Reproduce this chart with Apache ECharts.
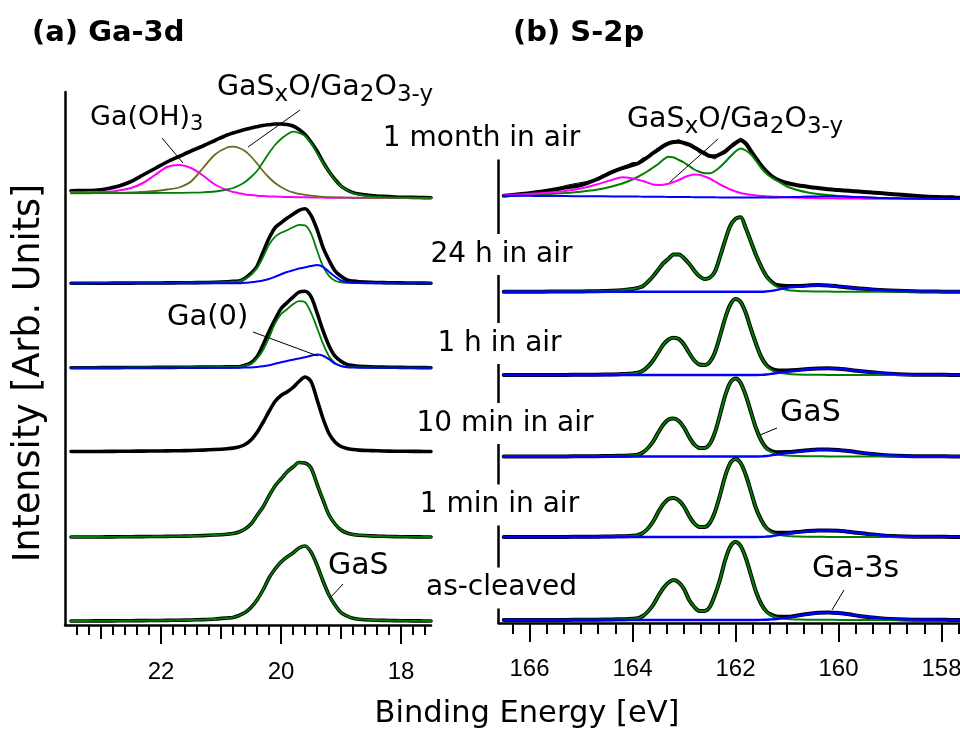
<!DOCTYPE html>
<html>
<head>
<meta charset="utf-8">
<title>GaS XPS: Ga-3d and S-2p versus air exposure</title>
<script src="https://cdn.jsdelivr.net/npm/echarts@6.0.0/dist/echarts.min.js"></script>
<style>
  html, body { margin: 0; padding: 0; background: #ffffff; }
  #chart { width: 960px; height: 732px; }
</style>
</head>
<body>
<div id="chart"></div>
<script>
// ---------------- binding-energy sampling (eV) ----------------
const energyGa3d = [23.5, 23.3, 23.1, 22.9, 22.7, 22.5, 22.3, 22.1, 21.9, 21.7, 21.5, 21.3, 21.1,
  20.9, 20.8, 20.7, 20.6, 20.5, 20.4, 20.3, 20.2, 20.1, 20.0, 19.9, 19.8, 19.7, 19.6, 19.5, 19.4,
  19.3, 19.2, 19.1, 19.0, 18.9, 18.8, 18.7, 18.5, 18.3, 18.1, 17.9, 17.7, 17.5];
const energyS2p = [166.5, 166.2, 165.9, 165.6, 165.3, 165.0, 164.7, 164.4, 164.2, 164.0,
  163.9, 163.8, 163.7, 163.6, 163.5, 163.4, 163.3, 163.2, 163.1, 163.0,
  162.9, 162.8, 162.7, 162.6, 162.5, 162.4, 162.3, 162.2, 162.1, 162.0,
  161.9, 161.8, 161.7, 161.6, 161.5, 161.4, 161.3, 161.2, 161.0, 160.8,
  160.6, 160.4, 160.2, 160.0, 159.8, 159.6, 159.4, 159.2, 159.0, 158.7,
  158.4, 158.1, 157.8, 157.6];

// exposure history, top spectrum first
const conditions = ['1 month in air', '24 h in air', '1 h in air', '10 min in air', '1 min in air', 'as-cleaved'];
// vertical stacking offsets of each spectrum (arb. units)
const offsetGa3d = [427, 341.7, 257.3, 173.5, 88, 4];
const offsetS2p = [424, 331.3, 248, 166.5, 86, 3];

// tick labels of the binding-energy axes
const ga3dTicks = [22, 20, 18];
const s2pTicks = [166, 164, 162, 160, 158];

// ---------------- Ga-3d intensities (arb. units above each baseline) ----------------
const monthGa3dFit = [7.3, 7.5, 7.8, 9.3, 12, 16.5, 23, 29.5, 36, 41.5, 47, 52, 57.5,
  63, 65, 66.8, 68.4, 70, 71.3, 72.5, 73.3, 74, 74, 73.5, 72, 68.5, 63.5, 56, 47,
  36, 26.4, 18.5, 12, 8, 5.4, 4, 2.5, 1.6, 1.0, 0.7, 0.5, 0.3];
const monthGa3dHydroxide = [5.7, 5.8, 6, 6.2, 7.6, 10, 15, 23, 31, 33, 30, 22.5, 13.5,
  7.8, 6, 4.8, 3.6, 2.9, 2.3, 1.9, 1.6, 1.4, 1.2, 1.0, 0.9, 0.8, 0.7, 0.6, 0.5,
  0.4, 0.3, 0.3, 0.2, 0.2, 0.1, 0.1, 0.1, 0, 0, 0, 0, 0];
const monthGa3dOxide = [5, 5, 5, 5.1, 5.2, 5.5, 6.2, 7, 8.5, 10.5, 16.5, 30, 43.5,
  50.5, 51.3, 50, 47, 41.5, 34.5, 27, 20.5, 15, 11, 7.8, 5.6, 4.2, 3.2, 2.3, 1.7,
  1.2, 0.8, 0.6, 0.5, 0.4, 0.3, 0.3, 0.2, 0.2, 0.1, 0.1, 0, 0];
const monthGa3dGaS = [4.7, 4.7, 4.8, 4.8, 4.9, 4.9, 5.0, 5.0, 5.1, 5.2, 5.3, 5.7, 6.5,
  8.5, 10, 12.5, 16, 21, 27, 36, 45, 53, 59, 63.5, 66.3, 65, 62, 55, 45,
  35.3, 26.5, 18, 12, 7.8, 5, 3.3, 1.6, 0.9, 0.5, 0.3, 0.2, 0.1];

const h24Ga3dFit = [0, 0, 0.1, 0.1, 0.2, 0.2, 0.3, 0.3, 0.4, 0.5, 0.6, 0.8, 1.0,
  1.5, 2, 2.2, 5, 10, 17, 31, 45, 55.5, 60.5, 65, 69, 73, 74.5, 68, 54,
  36, 23, 12.5, 7, 3.3, 2.2, 1.6, 1.0, 0.7, 0.5, 0.3, 0.2, 0.1];
const h24Ga3dGaS = [0, 0, 0.1, 0.1, 0.2, 0.2, 0.3, 0.3, 0.4, 0.5, 0.6, 0.7, 0.8,
  1.2, 1.6, 2, 4.5, 8.5, 15.5, 26, 38.5, 46.5, 50.5, 53, 56, 58.5, 58, 50, 33,
  17, 7.5, 2.6, 1.0, 0.5, 0.3, 0.2, 0.1, 0.1, 0, 0, 0, 0];
const h24Ga3dMetal = [0, 0, 0, 0, 0, 0, 0, 0, 0, 0, 0, 0, 0,
  0, 0, 0, 0.5, 1, 1.8, 2.8, 4.3, 6.5, 9, 11.3, 13, 14.8, 16, 17.2, 18.2,
  16.5, 11.5, 6.8, 2.8, 1.2, 0.5, 0.2, 0, 0, 0, 0, 0, 0];

const h1Ga3dFit = [0, 0, 0, 0.1, 0.1, 0.2, 0.2, 0.3, 0.3, 0.4, 0.5, 0.6, 0.7,
  0.8, 0.9, 1.0, 2.5, 5, 11, 22.7, 36, 48, 59, 65, 70.5, 75.5, 76.5, 71, 55,
  37, 22, 11.5, 6.5, 3.3, 2.2, 1.5, 0.9, 0.6, 0.4, 0.2, 0.1, 0];
const h1Ga3dGaS = [0, 0, 0, 0.1, 0.1, 0.2, 0.2, 0.3, 0.3, 0.4, 0.5, 0.6, 0.7,
  0.7, 0.8, 0.9, 2, 3.6, 9, 17.5, 30, 44, 53.5, 58.5, 63.5, 66.5, 65.5, 55, 40,
  24, 11.5, 4.8, 1.8, 0.9, 0.6, 0.4, 0.2, 0.1, 0.1, 0, 0, 0];
const h1Ga3dMetal = [0, 0, 0, 0, 0, 0, 0, 0, 0, 0, 0, 0, 0,
  0, 0, 0, 0.1, 0.3, 0.8, 1.5, 2.5, 4, 5.5, 6.8, 8, 9.2, 10.5, 12, 13.3,
  12, 8.5, 4, 1.6, 0.5, 0.2, 0, 0, 0, 0, 0, 0, 0];

const min10Ga3dFit = [0, 0, 0, 0.1, 0.2, 0.3, 0.4, 0.5, 0.6, 0.8, 1.0, 1.4, 2.0,
  2.8, 3.4, 4.6, 7, 11.5, 19, 29, 40, 50, 56, 59.5, 64, 70, 74.5, 70, 52,
  33, 18, 9.5, 5, 3, 2, 1.4, 0.9, 0.5, 0.3, 0.2, 0.1, 0];

const min1Ga3dFit = [0, 0, 0, 0.1, 0.2, 0.3, 0.4, 0.5, 0.6, 0.8, 1.0, 1.4, 2.0,
  2.8, 3.4, 5, 8, 13, 21.5, 30, 41, 51, 58, 65, 70, 74.5, 74, 69, 53,
  37, 22, 13, 7, 4, 2.5, 1.8, 1.1, 0.7, 0.4, 0.2, 0.1, 0];
const min1Ga3dGaS = min1Ga3dFit;

const cleavedGa3dFit = [0, 0, 0.1, 0.1, 0.2, 0.3, 0.4, 0.5, 0.6, 0.8, 1.0, 1.4, 2.0,
  3.0, 3.6, 5.5, 8.5, 13.5, 21, 31, 43, 52, 59, 64, 68, 73, 75, 69, 56,
  40, 26, 16, 8.5, 5, 2.7, 1.8, 1.0, 0.6, 0.4, 0.2, 0.1, 0];
const cleavedGa3dGaS = cleavedGa3dFit;

// ---------------- S-2p intensities (arb. units above each baseline) ----------------
const monthS2pFit = [3.3, 4.8, 6.6, 8.8, 11.4, 14, 19.5, 26.8, 30.8, 34,
  35.5, 38.5, 42, 46, 49.5, 53, 55.7, 57, 57.2, 56,
  54.3, 51.5, 48.5, 45.5, 43, 42.8, 44.8, 47.5, 52, 56,
  58.8, 55.5, 48, 40.5, 33.5, 27.5, 23, 19.8, 16, 13.8,
  12.3, 10.9, 9.7, 8.9, 8.2, 7.5, 6.7, 5.9, 5.1, 4.0,
  2.8, 2.0, 1.5, 1.2];
const monthS2pRaw = [3.3, 4.6, 6.9, 8.5, 13.5, 16.5, 19.0, 26.0, 31.5, 36.5,
  36.5, 41, 42.5, 45.5, 50, 52.5, 56.5, 57.5, 59.5, 55.5,
  55.5, 51, 46, 48, 42.5, 40, 44, 47.5, 52.5, 57,
  61, 55, 48.5, 40, 34, 27, 23.5, 19.5, 16.5, 13.5,
  12.8, 10.6, 10, 8.6, 8.5, 7.2, 6.9, 5.6, 5.3, 3.8,
  3.0, 1.8, 3.2, 1.2];
const monthS2pGaS = [3.0, 3.5, 4.2, 5.0, 6.0, 7.3, 9.2, 12.5, 15.5, 19.5,
  22, 24.8, 28, 31.5, 35, 39.5, 42.3, 41.5, 39, 36.5,
  33, 29.5, 27.3, 25.7, 25.7, 28, 32, 37, 42.5, 47.5,
  50.5, 48.5, 44.5, 38, 31, 25.5, 21.5, 18.5, 12.5, 9,
  6.5, 5, 4.0, 3.0, 2.3, 1.8, 1.4, 1.0, 0.8, 0.5,
  0.3, 0.2, 0.1, 0.1];
const monthS2pOxide = [4.0, 4.6, 5.4, 6.4, 8, 10.5, 14.5, 19, 21.7, 20.5,
  19.3, 18, 16.3, 14.5, 14, 14.3, 15.3, 17, 19, 21.5,
  23.5, 24.6, 24.2, 22.5, 20.5, 17.5, 14.5, 12, 9.5, 7.5,
  6, 5, 4.2, 3.6, 3.1, 2.7, 2.4, 2.2, 1.7, 1.3,
  1.0, 0.8, 0.7, 0.6, 0.5, 0.4, 0.3, 0.3, 0.2, 0.1,
  0.1, 0, 0, 0];
const monthS2pBackground = [3.3, 3.2, 3.1, 3.0, 2.9, 2.8, 2.7, 2.6, 2.5, 2.45,
  2.4, 2.35, 2.3, 2.25, 2.2, 2.15, 2.1, 2.05, 2.0, 1.95,
  1.9, 1.85, 1.8, 1.75, 1.7, 1.65, 1.6, 1.55, 1.5, 1.45,
  1.4, 1.4, 1.4, 1.4, 1.45, 1.5, 1.55, 1.6, 1.8, 2.1,
  2.4, 2.6, 2.7, 2.6, 2.3, 1.9, 1.5, 1.1, 0.8, 0.5,
  0.3, 0.1, 0, 0];

const h24S2pFit = [0, 0, 0, 0.1, 0.2, 0.3, 0.5, 0.9, 1.5, 2.6,
  3.8, 5.5, 10, 15.5, 22, 28.5, 33, 37.3, 37.3, 33.5,
  28, 21, 15.5, 12.8, 14, 20, 35, 51.5, 66, 73,
  74.5, 63.5, 50, 36.5, 25, 15.5, 10, 6.8, 5.8, 5.7,
  6.2, 6.7, 6.3, 5.3, 4.3, 3.3, 2.4, 1.7, 1.2, 0.6,
  0.3, 0.1, 0, 0];
const h24S2pGaS = [0, 0, 0, 0.1, 0.2, 0.3, 0.5, 0.9, 1.5, 2.6,
  3.8, 5.5, 10, 15.5, 22, 28.5, 33, 37.3, 37.3, 33.5,
  28, 21, 15.5, 12.8, 14, 20, 35, 51.5, 66, 73,
  74.5, 63.5, 50, 36.5, 25, 15.2, 9.2, 5, 1.8, 0.8,
  0.4, 0.2, 0.1, 0, 0, 0, 0, 0, 0, 0,
  0, 0, 0, 0];
const h24S2pGa3s = [0, 0, 0, 0, 0, 0, 0, 0, 0, 0,
  0, 0, 0, 0, 0, 0, 0, 0, 0, 0,
  0, 0, 0, 0, 0, 0, 0, 0, 0, 0,
  0, 0, 0, 0, 0, 0.3, 0.8, 1.8, 4.0, 4.9,
  5.8, 6.5, 6.2, 5.3, 4.3, 3.3, 2.4, 1.7, 1.2, 0.6,
  0.3, 0.1, 0, 0];

const h1S2pFit = [0, 0, 0, 0.1, 0.1, 0.2, 0.3, 0.6, 1.0, 1.5,
  2.2, 4.2, 8.5, 14.5, 22.5, 30.5, 35.5, 37.3, 36, 30.5,
  22, 14.5, 10.5, 10, 13, 22.5, 39, 57, 70.5, 76,
  73, 62, 46, 31, 18, 10, 6.2, 4.8, 4.5, 5.0,
  6.0, 6.6, 6.7, 6.2, 5.2, 4.0, 2.9, 2.0, 1.3, 0.6,
  0.3, 0.2, 0.1, 0];
const h1S2pGaS = [0, 0, 0, 0.1, 0.1, 0.2, 0.3, 0.6, 1.0, 1.5,
  2.2, 4.2, 8.5, 14.5, 22.5, 30.5, 35.5, 37.3, 36, 30.5,
  22, 14.5, 10.5, 10, 13, 22.5, 39, 57, 70.5, 76,
  73, 62, 46, 31, 17.9, 9.5, 5, 2.8, 1.2, 0.5,
  0.3, 0.2, 0.1, 0, 0, 0, 0, 0, 0, 0,
  0, 0, 0, 0];
const h1S2pGa3s = [0, 0, 0, 0, 0, 0, 0, 0, 0, 0,
  0, 0, 0, 0, 0, 0, 0, 0, 0, 0,
  0, 0, 0, 0, 0, 0, 0, 0, 0, 0,
  0, 0, 0, 0, 0.1, 0.5, 1.2, 2.0, 3.3, 4.5,
  5.7, 6.4, 6.6, 6.2, 5.2, 4.0, 2.9, 2.0, 1.3, 0.6,
  0.3, 0.2, 0.1, 0];

const min10S2pFit = [0, 0, 0, 0.1, 0.1, 0.2, 0.3, 0.5, 0.8, 1.2,
  1.8, 4, 8.5, 15, 24, 32, 37, 38, 35.5, 29,
  19.5, 12, 8.5, 8.5, 12.5, 24, 42, 61, 74, 78,
  73.5, 61, 44.5, 28, 16, 8.5, 5.5, 4.3, 4.4, 5.2,
  6.2, 7.0, 7.0, 6.5, 5.4, 4.0, 2.8, 1.8, 1.1, 0.5,
  0.3, 0.2, 0.1, 0];
const min10S2pGaS = [0, 0, 0, 0.1, 0.1, 0.2, 0.3, 0.5, 0.8, 1.2,
  1.8, 4, 8.5, 15, 24, 32, 37, 38, 35.5, 29,
  19.5, 12, 8.5, 8.5, 12.5, 24, 42, 61, 74, 78,
  73.5, 61, 44.5, 28, 15.9, 8, 4.3, 2.3, 1.0, 0.5,
  0.3, 0.2, 0.1, 0.1, 0, 0, 0, 0, 0, 0,
  0, 0, 0, 0];
const min10S2pGa3s = [0, 0, 0, 0, 0, 0, 0, 0, 0, 0,
  0, 0, 0, 0, 0, 0, 0, 0, 0, 0,
  0, 0, 0, 0, 0, 0, 0, 0, 0, 0,
  0, 0, 0, 0, 0.1, 0.5, 1.2, 2.0, 3.4, 4.7,
  5.9, 6.8, 6.9, 6.4, 5.4, 4.0, 2.8, 1.8, 1.1, 0.5,
  0.3, 0.2, 0.1, 0];

const min1S2pFit = [0, 0, 0, 0.1, 0.1, 0.2, 0.3, 0.5, 0.8, 1.2,
  1.8, 4, 8.5, 15.5, 25, 33, 38, 39, 36.5, 30.5,
  21, 13.5, 10, 10, 14, 25, 42, 61, 74, 78,
  74, 62, 45.5, 28.5, 17, 9, 5.5, 4.2, 4.2, 5.0,
  5.9, 6.5, 6.6, 6.2, 5.2, 4.0, 2.8, 1.8, 1.1, 0.5,
  0.3, 0.2, 0.1, 0];
const min1S2pGaS = [0, 0, 0, 0.1, 0.1, 0.2, 0.3, 0.5, 0.8, 1.2,
  1.8, 4, 8.5, 15.5, 25, 33, 38, 39, 36.5, 30.5,
  21, 13.5, 10, 10, 14, 25, 42, 61, 74, 78,
  74, 62, 45.5, 28.5, 16.9, 8.6, 4.7, 2.6, 1.0, 0.5,
  0.3, 0.2, 0.1, 0.1, 0, 0, 0, 0, 0, 0,
  0, 0, 0, 0];
const min1S2pGa3s = [0, 0, 0, 0, 0, 0, 0, 0, 0, 0,
  0, 0, 0, 0, 0, 0, 0, 0, 0, 0,
  0, 0, 0, 0, 0, 0, 0, 0, 0, 0,
  0, 0, 0, 0, 0.1, 0.4, 0.8, 1.6, 3.2, 4.5,
  5.6, 6.3, 6.5, 6.1, 5.2, 4.0, 2.8, 1.8, 1.1, 0.5,
  0.3, 0.2, 0.1, 0];

const cleavedS2pFit = [0, 0, 0, 0.1, 0.1, 0.2, 0.3, 0.5, 0.8, 1.2,
  1.7, 4, 8.5, 15, 24, 32, 37.5, 40, 37.5, 31,
  20, 13, 9, 9, 13, 25, 40.5, 60, 73.5, 78,
  74, 62, 45, 28, 16, 8.5, 5.1, 3.5, 3.2, 4.5,
  6.1, 7.2, 7.5, 6.9, 5.7, 4.0, 2.8, 1.8, 1.1, 0.5,
  0.3, 0.2, 0.1, 0];
const cleavedS2pGaS = [0, 0, 0, 0.1, 0.1, 0.2, 0.3, 0.5, 0.8, 1.2,
  1.7, 4, 8.5, 15, 24, 32, 37.5, 40, 37.5, 31,
  20, 13, 9, 9, 13, 25, 40.5, 60, 73.5, 78,
  74, 62, 45, 28, 15.9, 8, 4.5, 2.5, 1.0, 0.5,
  0.3, 0.2, 0.2, 0.1, 0, 0, 0, 0, 0, 0,
  0, 0, 0, 0];
const cleavedS2pGa3s = [0, 0, 0, 0, 0, 0, 0, 0, 0, 0,
  0, 0, 0, 0, 0, 0, 0, 0, 0, 0,
  0, 0, 0, 0, 0, 0, 0, 0, 0, 0,
  0, 0, 0, 0, 0.1, 0.3, 0.6, 1.0, 2.2, 4.0,
  5.8, 7.0, 7.3, 6.8, 5.7, 4.0, 2.8, 1.8, 1.1, 0.5,
  0.3, 0.2, 0.1, 0];

// ---------------- styling ----------------
const INK = '#000000';
const GREEN = '#008000';
const BLUE = '#0000ff';
const MAGENTA = '#ff00ff';
const OLIVE = '#6b6a1e';
const TEXT_FONT = '"DejaVu Sans", "Liberation Sans", sans-serif';
const TICK_FONT = '"Liberation Sans", Arial, sans-serif';

// ---------------- layout of the two energy axes ----------------
// Ga-3d: 60 px per eV, 22 eV at x = 161; S-2p: 51.5 px per eV, 166 eV at x = 529.5
const ga3dScale = { pxPerEv: 60, refEv: 22, refX: 161, top: 92, height: 533 };
const s2pScale = { pxPerEv: 51.5, refEv: 166, refX: 529.5, top: 158, height: 465 };

function gridFor(scale, eMax, eMin) {
  return {
    left: scale.refX - (eMax - scale.refEv) * scale.pxPerEv,
    width: (eMax - eMin) * scale.pxPerEv,
    top: scale.top,
    height: scale.height,
    containLabel: false,
    outerBoundsMode: 'none'
  };
}

const grids = [];
const xAxes = [];
const yAxes = [];

function addAxisGrid(scale, eMin, eMax, xOpts, yMax, yShow) {
  grids.push(gridFor(scale, eMax, eMin));
  const idx = grids.length - 1;
  xAxes.push(Object.assign({
    type: 'value', gridIndex: idx, min: eMin, max: eMax, inverse: true,
    splitLine: { show: false }, axisLine: { show: false, onZero: false },
    axisTick: { show: false }, axisLabel: { show: false }
  }, xOpts));
  yAxes.push({
    type: 'value', gridIndex: idx, min: 0, max: yMax, show: yShow,
    splitLine: { show: false },
    axisLine: { show: yShow, onZero: false, lineStyle: { color: INK, width: 2.5 } },
    axisTick: { show: false }, axisLabel: { show: false }
  });
  return idx;
}

const tickStyle = { color: INK, width: 2 };

// Ga-3d panel: frame, minor (0.2 eV), medium (1 eV), long (2 eV) ticks
const GA3D = addAxisGrid(ga3dScale, 17.5, 23.6,
  { axisLine: { show: true, onZero: false, lineStyle: { color: INK, width: 2.5 } } },
  ga3dScale.height, true);
addAxisGrid(ga3dScale, 17.6, 23.4,
  { interval: 0.2, axisTick: { show: true, length: 10, lineStyle: tickStyle } }, 1, false);
addAxisGrid(ga3dScale, 18, 23,
  { interval: 1, axisTick: { show: true, length: 14, lineStyle: tickStyle } }, 1, false);
addAxisGrid(ga3dScale, Math.min(...ga3dTicks), Math.max(...ga3dTicks),
  { interval: 2, axisTick: { show: true, length: 19, lineStyle: tickStyle } }, 1, false);

// S-2p panel: frame, minor (1/3 eV) and long (2 eV) ticks
const S2P = addAxisGrid(s2pScale, 157.5, 166.6,
  { axisLine: { show: true, onZero: false, lineStyle: { color: INK, width: 2.5 } } },
  s2pScale.height, true);
addAxisGrid(s2pScale, 473 / 3, 499 / 3,
  { interval: 1 / 3, axisTick: { show: true, length: 11, lineStyle: tickStyle } }, 1, false);
addAxisGrid(s2pScale, Math.min(...s2pTicks), Math.max(...s2pTicks),
  { interval: 2, axisTick: { show: true, length: 19, lineStyle: tickStyle } }, 1, false);

// ---------------- series ----------------
function trace(name, energy, values, offset, color, width, axis, smooth) {
  return {
    name, type: 'line', xAxisIndex: axis, yAxisIndex: axis,
    data: energy.map((e, i) => [e, offset + values[i]]),
    showSymbol: false, symbol: 'none', clip: false,
    smooth: smooth === undefined ? 0.3 : smooth,
    silent: true, animation: false,
    lineStyle: { color, width, cap: 'round', join: 'round' },
    itemStyle: { color },
    emphasis: { disabled: true }
  };
}

const series = [
  // Ga-3d
  trace('1 month fit', energyGa3d, monthGa3dFit, offsetGa3d[0], INK, 3.6, GA3D),
  trace('1 month Ga(OH)3', energyGa3d, monthGa3dHydroxide, offsetGa3d[0], MAGENTA, 2, GA3D),
  trace('1 month GaSxO/Ga2O3-y', energyGa3d, monthGa3dOxide, offsetGa3d[0], OLIVE, 1.8, GA3D),
  trace('1 month GaS', energyGa3d, monthGa3dGaS, offsetGa3d[0], GREEN, 1.8, GA3D),
  trace('24 h fit', energyGa3d, h24Ga3dFit, offsetGa3d[1], INK, 3.6, GA3D),
  trace('24 h GaS', energyGa3d, h24Ga3dGaS, offsetGa3d[1], GREEN, 1.8, GA3D),
  trace('24 h Ga(0)', energyGa3d, h24Ga3dMetal, offsetGa3d[1], BLUE, 2, GA3D),
  trace('1 h fit', energyGa3d, h1Ga3dFit, offsetGa3d[2], INK, 3.6, GA3D),
  trace('1 h GaS', energyGa3d, h1Ga3dGaS, offsetGa3d[2], GREEN, 1.8, GA3D),
  trace('1 h Ga(0)', energyGa3d, h1Ga3dMetal, offsetGa3d[2], BLUE, 2, GA3D),
  trace('10 min', energyGa3d, min10Ga3dFit, offsetGa3d[3], INK, 3.6, GA3D),
  trace('1 min fit', energyGa3d, min1Ga3dFit, offsetGa3d[4], INK, 3.6, GA3D),
  trace('1 min GaS', energyGa3d, min1Ga3dGaS, offsetGa3d[4], GREEN, 1.8, GA3D),
  trace('as-cleaved fit', energyGa3d, cleavedGa3dFit, offsetGa3d[5], INK, 3.6, GA3D),
  trace('as-cleaved GaS', energyGa3d, cleavedGa3dGaS, offsetGa3d[5], GREEN, 1.8, GA3D),
  // S-2p
  trace('1 month fit', energyS2p, monthS2pFit, offsetS2p[0], INK, 4, S2P),
  trace('1 month data', energyS2p, monthS2pRaw, offsetS2p[0], INK, 1, S2P, false),
  trace('1 month GaS', energyS2p, monthS2pGaS, offsetS2p[0], GREEN, 2, S2P),
  trace('1 month GaSxO/Ga2O3-y', energyS2p, monthS2pOxide, offsetS2p[0], MAGENTA, 2, S2P),
  trace('1 month background', energyS2p, monthS2pBackground, offsetS2p[0], BLUE, 2, S2P),
  trace('24 h fit', energyS2p, h24S2pFit, offsetS2p[1], INK, 4, S2P),
  trace('24 h GaS', energyS2p, h24S2pGaS, offsetS2p[1], GREEN, 2, S2P),
  trace('24 h Ga-3s', energyS2p, h24S2pGa3s, offsetS2p[1], BLUE, 2.4, S2P),
  trace('1 h fit', energyS2p, h1S2pFit, offsetS2p[2], INK, 4, S2P),
  trace('1 h GaS', energyS2p, h1S2pGaS, offsetS2p[2], GREEN, 2, S2P),
  trace('1 h Ga-3s', energyS2p, h1S2pGa3s, offsetS2p[2], BLUE, 2.4, S2P),
  trace('10 min fit', energyS2p, min10S2pFit, offsetS2p[3], INK, 4, S2P),
  trace('10 min GaS', energyS2p, min10S2pGaS, offsetS2p[3], GREEN, 2, S2P),
  trace('10 min Ga-3s', energyS2p, min10S2pGa3s, offsetS2p[3], BLUE, 2.4, S2P),
  trace('1 min fit', energyS2p, min1S2pFit, offsetS2p[4], INK, 4, S2P),
  trace('1 min GaS', energyS2p, min1S2pGaS, offsetS2p[4], GREEN, 2, S2P),
  trace('1 min Ga-3s', energyS2p, min1S2pGa3s, offsetS2p[4], BLUE, 2.4, S2P),
  trace('as-cleaved fit', energyS2p, cleavedS2pFit, offsetS2p[5], INK, 4, S2P),
  trace('as-cleaved GaS', energyS2p, cleavedS2pGaS, offsetS2p[5], GREEN, 2, S2P),
  trace('as-cleaved Ga-3s', energyS2p, cleavedS2pGa3s, offsetS2p[5], BLUE, 2.4, S2P)
];

const chart = echarts.init(document.getElementById('chart'), null, { renderer: 'canvas' });
chart.setOption({
  backgroundColor: '#ffffff',
  animation: false,
  grid: grids,
  xAxis: xAxes,
  yAxis: yAxes,
  series
});

// ---------------- annotations (anchored in energy / intensity units) ----------------
function richParts(main, sub) {
  return {
    m: { fontFamily: TEXT_FONT, fontSize: main, fill: INK, lineHeight: 34 },
    s: { fontFamily: TEXT_FONT, fontSize: sub, fill: INK, lineHeight: 34, padding: [14, 0, 0, 0] }
  };
}
// text: left edge / vertical centre; leader: two points
const peakNotes = [
  { grid: GA3D, size: [27, 21], text: '{m|Ga(OH)}{s|3}', at: [23.183, 507], leader: [[21.983, 487], [21.633, 462]] },
  { grid: GA3D, size: [28.5, 23], text: '{m|GaS}{s|x}{m|O/Ga}{s|2}{m|O}{s|3-y}', at: [21.067, 537], leader: [[19.683, 515], [20.55, 478]] },
  { grid: GA3D, size: [29, 21], text: '{m|Ga(0)}', at: [21.9, 308], leader: [[20.467, 293], [19.383, 269]] },
  { grid: GA3D, size: [30, 21], text: '{m|GaS}', at: [19.217, 59], leader: [[18.967, 41], [19.183, 27]] },
  { grid: S2P, size: [28.5, 23], text: '{m|GaS}{s|x}{m|O/Ga}{s|2}{m|O}{s|3-y}', at: [164.107, 503], leader: [[162.34, 484], [163.272, 441]] },
  { grid: S2P, size: [30, 21], text: '{m|GaS}', at: [161.136, 210], leader: [[161.194, 195], [161.524, 188]] },
  { grid: S2P, size: [30, 21], text: '{m|Ga-3s}', at: [160.515, 54], leader: [[159.893, 33], [160.126, 13]] }
];

// sample names sit on the S-2p intensity axis, masking it
const conditionX = [481.5, 501.5, 499.5, 505, 499.5, 501.5];
const conditionY = [139, 254.5, 343.5, 423.5, 505, 588];

const graphic = [];
peakNotes.forEach((n) => {
  const p = chart.convertToPixel({ gridIndex: n.grid }, n.at);
  const a = chart.convertToPixel({ gridIndex: n.grid }, n.leader[0]);
  const b = chart.convertToPixel({ gridIndex: n.grid }, n.leader[1]);
  graphic.push({
    type: 'line', silent: true, z: 50,
    shape: { x1: a[0], y1: a[1], x2: b[0], y2: b[1] },
    style: { stroke: INK, lineWidth: 1 }
  });
  graphic.push({
    type: 'text', silent: true, z: 50, x: p[0], y: p[1],
    style: { text: n.text, rich: richParts(n.size[0], n.size[1]), align: 'left', verticalAlign: 'middle' }
  });
});

// energy tick labels, placed under the long ticks
function tickLabels(gridIndex, ticks, drop) {
  ticks.forEach((t) => {
    const p = chart.convertToPixel({ gridIndex }, [t, 0]);
    graphic.push({
      type: 'text', silent: true, z: 40, x: p[0], y: p[1] + drop,
      style: { text: String(t), fill: INK, fontFamily: TICK_FONT, fontSize: 24, align: 'center', verticalAlign: 'middle' }
    });
  });
}
tickLabels(GA3D, ga3dTicks, 47);
tickLabels(S2P, s2pTicks, 46);

conditions.forEach((c, i) => {
  graphic.push({
    type: 'text', silent: true, z: 60, x: conditionX[i], y: conditionY[i],
    style: {
      text: c, fill: INK, fontFamily: TEXT_FONT, fontSize: 28, lineHeight: 29,
      align: 'center', verticalAlign: 'middle',
      backgroundColor: '#ffffff', padding: [6, 3, 6, 3]
    }
  });
});
graphic.push(
  { type: 'text', silent: true, x: 32, y: 33,
    style: { text: '(a) Ga-3d', fill: INK, fontFamily: TEXT_FONT, fontSize: 29, fontWeight: 'bold', align: 'left', verticalAlign: 'middle' } },
  { type: 'text', silent: true, x: 513, y: 33,
    style: { text: '(b) S-2p', fill: INK, fontFamily: TEXT_FONT, fontSize: 29, fontWeight: 'bold', align: 'left', verticalAlign: 'middle' } },
  { type: 'text', silent: true, x: 527, y: 714,
    style: { text: 'Binding Energy [eV]', fill: INK, fontFamily: TEXT_FONT, fontSize: 30.5, align: 'center', verticalAlign: 'middle' } },
  { type: 'text', silent: true, x: 30, y: 373, rotation: Math.PI / 2,
    style: { text: 'Intensity [Arb. Units]', fill: INK, fontFamily: TEXT_FONT, fontSize: 36.5, align: 'center', verticalAlign: 'middle' } }
);
chart.setOption({ graphic });
</script>
</body>
</html>
